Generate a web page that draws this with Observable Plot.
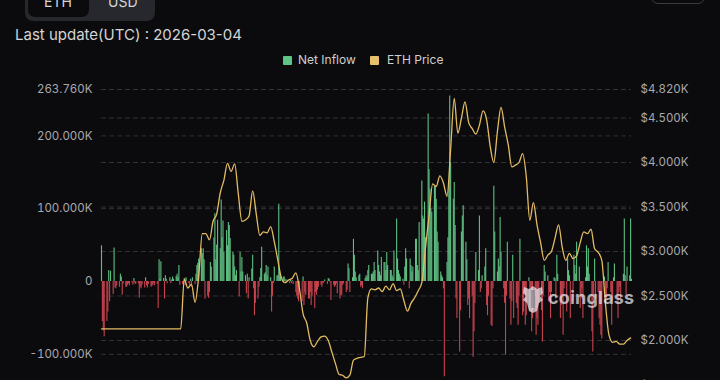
<!DOCTYPE html>
<html><head><meta charset="utf-8">
<script src="https://cdn.jsdelivr.net/npm/d3@7"></script>
<script src="https://cdn.jsdelivr.net/npm/@observablehq/plot@0.6"></script>
<style>
html,body{margin:0;padding:0;background:#0b0b0e;overflow:hidden;width:720px;height:380px;font-family:Inter,"Noto Sans",sans-serif;}
#wrap{position:relative;width:720px;height:380px;overflow:hidden;}
.toggle{position:absolute;left:25px;top:-14px;width:130px;height:35px;background:#27282d;border-radius:8px;}
.toggle .on{position:absolute;left:3px;top:0;width:61px;height:31px;background:#0b0b0e;border-radius:7px;}
.toggle .t{position:absolute;top:9px;font-size:14px;line-height:14px;color:#d6d6d6;}
.tr{position:absolute;left:651px;top:-30px;width:52px;height:32px;border:1px solid #3a3a3f;border-radius:7px;}
.upd{position:absolute;left:15px;top:26px;font-size:15px;line-height:18px;color:#d4d4d4;}
.legend{position:absolute;top:53px;left:0;width:720px;height:14px;font-size:12px;line-height:14px;color:#cfcfcf;}
.legend .sw{position:absolute;top:3px;width:9px;height:9px;border-radius:1px;}
.legend .lt{position:absolute;top:0;}
#chart{position:absolute;left:0;top:72px;}
.wm{position:absolute;left:520px;top:284px;height:30px;}
.wm .txt{position:absolute;left:28px;top:3px;font-size:18px;font-weight:700;color:rgba(235,235,240,0.72);letter-spacing:0.2px;}
</style></head>
<body><div id="wrap">
<div class="toggle"><div class="on"></div><span class="t" style="left:19px">ETH</span><span class="t" style="left:83px">USD</span></div>
<div class="tr"></div>
<div class="upd">Last update(UTC) : 2026-03-04</div>
<div class="legend">
 <div class="sw" style="left:283px;background:#5ec487"></div><span class="lt" style="left:298px">Net Inflow</span>
 <div class="sw" style="left:370px;background:#e6c169"></div><span class="lt" style="left:387px">ETH Price</span>
</div>
<div id="chart"></div>
<div class="wm"><svg width="26" height="30" viewBox="0 0 26 30"><path d="M4 3 L9 5 L13 2 L17 5 L22 3 L23 9 L20 12 L23 16 L19 19 L17 27 L13 29 L9 27 L7 19 L3 16 L6 12 L3 9 Z" fill="rgba(235,235,240,0.72)"/><rect x="11" y="6" width="4" height="18" fill="rgba(120,120,130,0.6)"/></svg><span class="txt">coinglass</span></div>
</div>
<script>
// ---- data ----
const startDate = "2024-07-23";
// daily ETF net inflow (thousand ETH), one value per trading day
const netInflowK = [
 49,-55,-68,-76,-55, -42,15,-28,14,-18, 46,-9,-10,-6,-8, 10,6,-19,-4,-8, -8,-5,-3,-6,-2,
 -5,4,-3,-4,-3, -23,-8,-10,-5,-9, 5,-6,-9,-4,-8, -7,-5,-3,-6,-4, -37,30,3,27,4,
 -24,8,3,-3,5, -3,2,6,3,7, 10,5,22,-5,-4, -5,4,-6,5,-3, -6,3,-8,5,-4,
 10,22,25,31,45, 38,45,30,-24,-20, -23,-15,26,20,60, 93,30,50,84,45, 112,60,83,40,70,
 49,81,77,59,40, 36,20,8,15,-21, 40,13,33,13,8, -17,10,-24,5,17, 36,-10,-47,-30,-24,
 -8,5,18,47,10, 12,22,8,20,5, -42,-20,-3,20,8, 8,106,13,8,6, 6,3,-2,2,-3,
 2,-3,1,-4,-15, -20,-24,-28,-10,-28, 6,-33,-15,-19,-24, -24,-15,-33,-20,-37, -15,-19,-12,-8,-5,
 -8,-3,-2,2,-4, 4,3,-2,-26,-5, -8,-6,-3,-17,-24, -20,-19,-5,-3,-15, -12,24,18,-15,5,
 58,36,13,5,8, 10,-8,-6,-10,4, 8,6,15,22,10, 10,13,26,15,42, 22,13,8,33,26,
 26,15,40,22,15, 15,8,5,42,86, 31,15,10,6,3, -5,20,45,31,-10, 31,22,13,20,58,
 58,22,15,81,138, 90,86,109,60,230, 154,127,100,95,131, 131,113,68,54,13, 8,5,-10,-131,26,
 60,131,255,163,113, 136,77,-24,-51,-97, -40,68,90,104,54, 30,-33,-24,-51,-20, -104,-69,-30,40,15,
 90,-15,-10,8,20, 45,-33,-47,-20,-60, -62,-10,131,68,13, 31,20,88,40,-10, -30,-101,-20,54,-24,
 -60,-28,36,-51,-30, -37,-60,-20,58,-47, -42,-15,-60,-47,5, -42,-10,-69,-51,-20, -74,-51,-60,-30,-40,
 -83,-20,22,13,8, -28,-15,-51,-15,5, 4,-24,36,10,-51, -33,-20,-74,-10,-42, 31,15,8,-51,-28,
 36,22,10,54,20, -37,-24,-10,-51,5, 49,20,45,10,-69, -97,-30,31,-24,-15, -51,-60,-74,-79,6,
 -33,-24,-10,26,-15, -60,-28,5,24,-20, -51,-15,-8,-24,10, 86,8,-19,20,8, 86,3
];
// ETH price (USD), one value every 4 calendar days from startDate
const priceStepDays = 4;
const ethPrice = [
 2131,2131,2131,2131,2131,2131,2131,2131,2131,2131,2131,2131,2131,2131,2131,2131,2131,2131,2131,2131,2131,2131,2131,
 2690,2590,2630,2430,2720,3200,3200,3130,3340,3420,3660,3800,3990,3900,3985,3650,3340,3355,3400,3680,3420,3180,
 3220,3210,3280,3110,2900,2700,2650,2680,2700,2760,2580,2300,2200,2000,1930,1990,2040,2050,2000,1870,1740,1620,
 1610,1580,1610,1780,1800,1810,1820,2480,2580,2570,2590,2550,2610,2570,2640,2560,2580,2450,2330,2420,2480,2560,
 2650,3040,3400,3760,3730,3850,3770,3620,4150,4720,4330,4500,4680,4450,4380,4320,4420,4580,4480,4180,4000,4350,
 4620,4400,4200,3950,3970,4000,4100,3850,3350,3550,3300,3100,2900,2960,3000,3150,3300,3050,2900,2980,2920,2950,
 3100,3220,3200,3250,3030,2990,2900,2420,2060,1980,1990,1960,1960,2000,2030
];
const leftTicks = [-100, 100, 200, 263.76];
const rightTicks = [1500, 2000, 2500, 3000, 3500, 4000, 4500, 4820];
const yDomain = [-158, 263.76];
const priceDomain = [1371, 4820];
const endDate = "2026-03-04";

// ---- build tables ----
const t0 = new Date(startDate + "T00:00:00Z");
const bars = [];
{
  let d = t0, i = 0;
  while (i < netInflowK.length) {
    const wd = d.getUTCDay();
    if (wd !== 0 && wd !== 6) { bars.push({date: d, v: netInflowK[i]}); i++; }
    d = d3.utcDay.offset(d, 1);
  }
}
const prices = ethPrice.map((p, k) => ({date: d3.utcDay.offset(t0, k * priceStepDays), p}));
const toY = p => yDomain[0] + (p - priceDomain[0]) / (priceDomain[1] - priceDomain[0]) * (yDomain[1] - yDomain[0]);
const toP = v => priceDomain[0] + (v - yDomain[0]) / (yDomain[1] - yDomain[0]) * (priceDomain[1] - priceDomain[0]);
const rightY = rightTicks.map(toY);
const GREEN = "#5fbf82", RED = "#c8434f", GOLD = "#e3bb62";

const chart = Plot.plot({
  width: 720, height: 354,
  marginLeft: 101, marginRight: 89, marginTop: 17, marginBottom: 30,
  style: {background: "transparent", fontFamily: "Inter, 'Noto Sans', sans-serif", fontSize: "11.5px", color: "#a9a9ad"},
  x: {type: "utc", domain: [t0, new Date(endDate + "T00:00:00Z")], axis: null},
  y: {domain: yDomain},
  marks: [
    Plot.ruleY([...leftTicks, ...rightY], {stroke: "#303035", strokeDasharray: "5,3", strokeWidth: 1}),
    Plot.ruleX(bars, {x: "date", y1: 0, y2: "v", stroke: d => d.v >= 0 ? GREEN : RED, strokeWidth: 1.1}),
    Plot.line(prices, {x: "date", y: d => toY(d.p), stroke: GOLD, strokeWidth: 1.3, curve: "monotone-x"}),
    Plot.axisY(leftTicks.concat([0]), {anchor: "left", tickSize: 0, tickPadding: 9, label: null,
      tickFormat: v => v === 0 ? "0" : v.toFixed(3) + "K", fill: "#a9a9ad"}),
    Plot.axisY(rightY, {anchor: "right", tickSize: 0, tickPadding: 9, label: null,
      tickFormat: v => "$" + (Math.round(toP(v) / 10) * 10 / 1000).toFixed(3) + "K", fill: "#a9a9ad"})
  ]
});
document.getElementById("chart").appendChild(chart);
</script>
</body></html>
